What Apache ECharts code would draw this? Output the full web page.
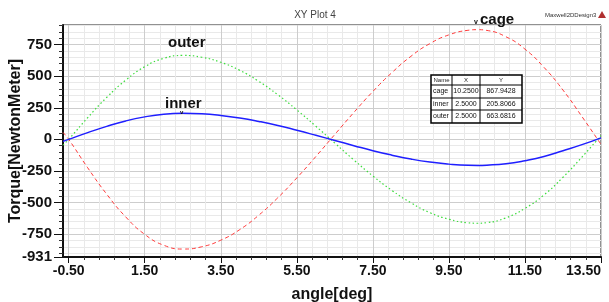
<!DOCTYPE html>
<html>
<head>
<meta charset="utf-8">
<script src="https://cdn.jsdelivr.net/npm/echarts@6/dist/echarts.min.js"></script>
<style>
  html, body { margin: 0; padding: 0; background: #fff; }
  #chart { width: 609px; height: 302px; }
</style>
</head>
<body>
<div id="chart"></div>
<script>
    // values
    var angles = [-0.65, -0.5, 0, 0.5, 1, 1.5, 2, 2.5, 3, 3.5, 4, 4.5, 5, 5.5, 6, 6.5, 7, 7.5, 8, 8.5, 9, 9.5, 10, 10.25, 10.5, 11, 11.5, 12, 12.5, 13, 13.5];
    var cage  = [55, 0, -225, -434, -614, -752, -838, -868, -850, -798, -714, -600, -462, -305, -136, 39, 213, 379, 528, 657, 758, 827, 863, 868, 862, 812, 714, 570, 390, 180, -40];
    var inner = [-16, 0, 53, 103, 146, 178, 199, 206, 202, 189, 169, 142, 110, 72, 32, -9, -50, -90, -125, -156, -180, -196, -205, -206, -204, -193, -169, -136, -90, -42, 12];
    var outer = [-45, 0, 172, 332, 469, 575, 641, 664, 650, 610, 546, 459, 353, 233, 104, -30, -163, -290, -404, -502, -580, -632, -660, -664, -659, -621, -546, -440, -300, -140, 30];

    var xMajor = [-0.5, 1.5, 3.5, 5.5, 7.5, 9.5, 11.5, 13.5];
    var yLabels = [-931, -750, -500, -250, 0, 250, 500, 750];

    var tableHead = ['Name', 'X', 'Y'];
    var tableRows = [
        ['cage', '10.2500', '867.9428'],
        ['inner', '2.5000', '205.8066'],
        ['outer', '2.5000', '663.6816']
    ];

    var xMin = -0.65, xMax = 13.5, yMin = -931, yMax = 905;

    var xMinor = [];
    for (var i = 0; i <= 35; i++) xMinor.push(+(-0.5 + i * 0.4).toFixed(2));
    var yMinor = [];
    for (var v = -900; v <= 900; v += 50) yMinor.push(v);

    function pairs(ys) {
        return angles.map(function (a, k) { return [a, ys[k]]; });
    }

    var labelFont = { fontFamily: 'Liberation Sans', fontWeight: 'bold', fontSize: 15, color: '#111' };
    var nameFont = { fontFamily: 'Liberation Sans', fontWeight: 'bold', fontSize: 16, color: '#111' };

    var myChart = echarts.init(document.getElementById('chart'));

    // table drawn as graphic
    var tbl = [];
    var colX = [431, 452, 480, 522];
    var rowY = [75, 85, 98, 110, 123];
    tbl.push({ type: 'rect', shape: { x: colX[0], y: rowY[0], width: colX[3] - colX[0], height: rowY[4] - rowY[0] },
        style: { fill: '#fff', stroke: '#000', lineWidth: 1.5 }, z: 10 });
    for (var r = 1; r < 4; r++) {
        tbl.push({ type: 'line', shape: { x1: colX[0], y1: rowY[r], x2: colX[3], y2: rowY[r] }, style: { stroke: '#000', lineWidth: 1 }, z: 11 });
    }
    for (var c = 1; c < 3; c++) {
        tbl.push({ type: 'line', shape: { x1: colX[c], y1: rowY[0], x2: colX[c], y2: rowY[4] }, style: { stroke: '#000', lineWidth: 1 }, z: 11 });
    }
    tableHead.forEach(function (t, c) {
        tbl.push({ type: 'text', x: (colX[c] + colX[c + 1]) / 2, y: (rowY[0] + rowY[1]) / 2, z: 12,
            style: { text: t, fontSize: 6, fontFamily: 'Liberation Sans', fill: '#222', align: 'center', verticalAlign: 'middle' } });
    });
    tableRows.forEach(function (row, r) {
        row.forEach(function (t, c) {
            tbl.push({ type: 'text', x: c === 0 ? colX[0] + 2 : (colX[c] + colX[c + 1]) / 2, y: (rowY[r + 1] + rowY[r + 2]) / 2, z: 12,
                style: { text: t, fontSize: 7, fontFamily: 'Liberation Sans', fill: '#111',
                    align: c === 0 ? 'left' : 'center', verticalAlign: 'middle' } });
        });
    });

    option = {
        animation: false,
        backgroundColor: '#fff',
        title: {
            text: 'XY Plot 4',
            left: 310, top: 5, textAlign: 'center',
            textStyle: { fontSize: 10, fontWeight: 'normal', color: '#444', fontFamily: 'Liberation Sans' }
        },
        grid: {
            left: 63, right: 8, top: 25, bottom: 45,
            outerBoundsMode: 'none', containLabel: false,
            show: true, borderColor: '#222', borderWidth: 1, backgroundColor: '#fff'
        },
        xAxis: [
            {
                type: 'value', min: xMin, max: xMax, position: 'bottom',
                axisLine: { show: true, onZero: false, lineStyle: { color: '#111', width: 2 } },
                axisTick: { show: true, customValues: xMinor, length: 3, lineStyle: { color: '#333' } },
                axisLabel: { show: false },
                splitLine: { show: true, lineStyle: { color: '#e9e9e9', width: 1 } }
            },
            {
                type: 'value', min: xMin, max: xMax, position: 'bottom',
                name: 'angle[deg]', nameLocation: 'middle', nameGap: 30, nameMoveOverlap: false,
                nameTextStyle: nameFont,
                axisLine: { show: false, onZero: false },
                axisTick: { show: true, customValues: xMajor, length: 6, lineStyle: { color: '#111' } },
                axisLabel: Object.assign({ customValues: xMajor, margin: 7, alignMaxLabel: 'right',
                    formatter: function (v) { return v.toFixed(2); } }, labelFont, { fontSize: 14 }),
                splitLine: { show: true, lineStyle: { color: '#cdcdcd', width: 1 } }
            }
        ],
        yAxis: [
            {
                type: 'value', min: yMin, max: yMax, position: 'left',
                axisLine: { show: true, onZero: false, lineStyle: { color: '#111', width: 2 } },
                axisTick: { show: true, customValues: yMinor, length: 4, lineStyle: { color: '#333' } },
                axisLabel: { show: false },
                splitLine: { show: true, lineStyle: { color: '#e9e9e9', width: 1 } }
            },
            {
                type: 'value', min: yMin, max: yMax, position: 'left',
                name: 'Torque[NewtonMeter]', nameLocation: 'middle', nameGap: 39, nameMoveOverlap: false,
                nameTextStyle: nameFont,
                axisLine: { show: false, onZero: false },
                axisTick: { show: true, customValues: yLabels, length: 9, lineStyle: { color: '#111' } },
                axisLabel: Object.assign({ customValues: yLabels, margin: 11 }, labelFont),
                splitLine: { show: true, lineStyle: { color: '#cdcdcd', width: 1 } }
            }
        ],
        series: [
            {
                name: 'cage', type: 'line', data: pairs(cage), smooth: true, showSymbol: false,
                lineStyle: { color: '#ff3b3b', width: 1, type: [4, 3] }, z: 3
            },
            {
                name: 'outer', type: 'line', data: pairs(outer), smooth: true, showSymbol: false,
                lineStyle: { color: '#3ddc3d', width: 1.2, type: [1.5, 2.5] }, z: 3
            },
            {
                name: 'inner', type: 'line', data: pairs(inner), smooth: true, showSymbol: false,
                lineStyle: { color: '#1f1fff', width: 1.5 }, z: 4
            }
        ],
        graphic: [
            { type: 'text', x: 168, y: 35, style: { text: 'outer', font: 'bold 15px "Liberation Sans"', fill: '#111' }, z: 20 },
            { type: 'text', x: 165, y: 96, style: { text: 'inner', font: 'bold 15px "Liberation Sans"', fill: '#111' }, z: 20 },
            { type: 'text', x: 480, y: 12, style: { text: 'cage', font: 'bold 15px "Liberation Sans"', fill: '#111' }, z: 20 },
            { type: 'text', x: 474, y: 19, style: { text: 'v', font: 'bold 7px "Liberation Sans"', fill: '#111' }, z: 20 },
            { type: 'text', x: 180, y: 109, style: { text: 'v', font: 'bold 6px "Liberation Sans"', fill: '#111' }, z: 20 },
            { type: 'text', x: 545, y: 12, style: { text: 'Maxwell2DDesign3', font: '6px "Liberation Sans"', fill: '#333' }, z: 20 },
            { type: 'polygon', shape: { points: [[598, 18], [602, 11], [606, 18]] }, style: { fill: '#b03030' }, z: 20 }
        ].concat(tbl)
    };

    myChart.setOption(option);
</script>
</body>
</html>
